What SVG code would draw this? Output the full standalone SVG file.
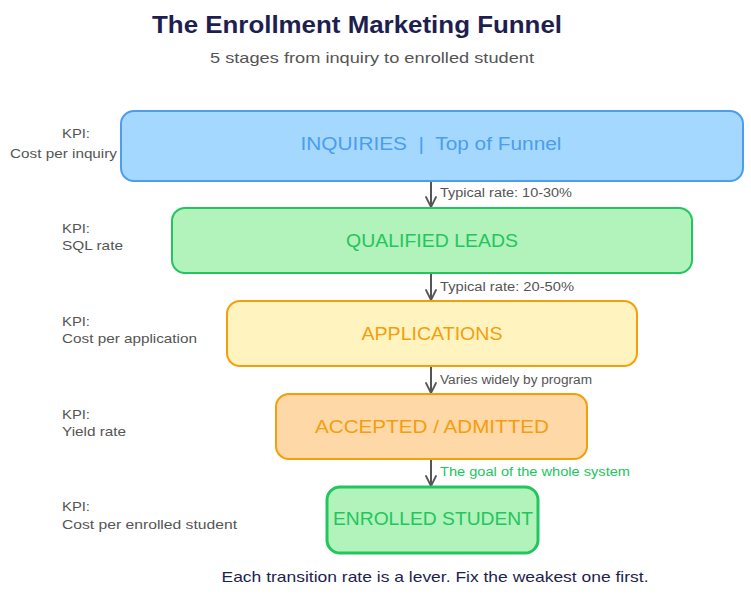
<svg xmlns="http://www.w3.org/2000/svg" width="751" height="597" viewBox="0 0 751 597">
<style>
text{font-family:"Liberation Sans","Noto Sans",sans-serif}
.title{font-size:24px;font-weight:bold;fill:#1e1e4f}
.sub{font-size:15px;fill:#555555}
.kpi{font-size:13px;fill:#555555}
.lbl{font-size:18px;text-anchor:middle}
.edge{font-size:12.5px;fill:#555555}
.box{stroke-width:2}
.conn{stroke:#555555;stroke-width:2;fill:none;marker-end:url(#ah)}
</style>
<defs>
<marker id="ah" viewBox="0 0 12 12" refX="11" refY="6" markerWidth="12" markerHeight="12" markerUnits="userSpaceOnUse" orient="auto">
<path d="M1,1 L11,6 L1,11" fill="none" stroke="#555555" stroke-width="1.8" stroke-linecap="round" stroke-linejoin="round"/>
</marker>
</defs>
<rect width="751" height="597" fill="#ffffff"/>
<text class="title" x="357" y="33" text-anchor="middle" textLength="410" lengthAdjust="spacingAndGlyphs">The Enrollment Marketing Funnel</text>
<text class="sub" x="372" y="63" text-anchor="middle" textLength="324" lengthAdjust="spacingAndGlyphs">5 stages from inquiry to enrolled student</text>

<g id="connectors">
<line class="conn" x1="431" y1="182" x2="431" y2="207"/>
<line class="conn" x1="431" y1="274" x2="431" y2="300"/>
<line class="conn" x1="431" y1="367" x2="431" y2="393"/>
<line class="conn" x1="431" y1="460" x2="431" y2="486"/>
<text class="edge" x="440" y="197" textLength="132" lengthAdjust="spacingAndGlyphs">Typical rate: 10-30%</text>
<text class="edge" x="440" y="291" textLength="134" lengthAdjust="spacingAndGlyphs">Typical rate: 20-50%</text>
<text class="edge" x="440" y="384" textLength="152" lengthAdjust="spacingAndGlyphs">Varies widely by program</text>
<text class="edge" x="440" y="476" style="fill:#22c55e" textLength="190" lengthAdjust="spacingAndGlyphs">The goal of the whole system</text>
</g>

<g id="inquiries">
<rect class="box" x="121" y="111" width="622" height="70" rx="13" fill="#a5d8ff" stroke="#4a9eed"/>
<text class="lbl" x="431" y="150" fill="#4a9eed" style="white-space:pre" xml:space="preserve" textLength="261" lengthAdjust="spacingAndGlyphs">INQUIRIES  |  Top of Funnel</text>
<text class="kpi" x="62" y="138" textLength="28" lengthAdjust="spacingAndGlyphs">KPI:</text>
<text class="kpi" x="10" y="158" textLength="107" lengthAdjust="spacingAndGlyphs">Cost per inquiry</text>
</g>

<g id="qualified-leads">
<rect class="box" x="172" y="208" width="520" height="65" rx="13" fill="#b2f2bb" stroke="#22c55e"/>
<text class="lbl" x="432" y="247" fill="#22c55e" textLength="172" lengthAdjust="spacingAndGlyphs">QUALIFIED LEADS</text>
<text class="kpi" x="62" y="233" textLength="28" lengthAdjust="spacingAndGlyphs">KPI:</text>
<text class="kpi" x="62" y="250" textLength="61" lengthAdjust="spacingAndGlyphs">SQL rate</text>
</g>

<g id="applications">
<rect class="box" x="227" y="301" width="410" height="65" rx="13" fill="#fff3bf" stroke="#f59e0b"/>
<text class="lbl" x="432" y="340" fill="#f59e0b" textLength="141" lengthAdjust="spacingAndGlyphs">APPLICATIONS</text>
<text class="kpi" x="62" y="326" textLength="28" lengthAdjust="spacingAndGlyphs">KPI:</text>
<text class="kpi" x="62" y="343" textLength="135" lengthAdjust="spacingAndGlyphs">Cost per application</text>
</g>

<g id="accepted">
<rect class="box" x="276" y="394" width="311" height="65" rx="13" fill="#ffd8a8" stroke="#f59e0b"/>
<text class="lbl" x="432" y="433" fill="#f59e0b" textLength="234" lengthAdjust="spacingAndGlyphs">ACCEPTED / ADMITTED</text>
<text class="kpi" x="62" y="419" textLength="28" lengthAdjust="spacingAndGlyphs">KPI:</text>
<text class="kpi" x="62" y="436" textLength="64" lengthAdjust="spacingAndGlyphs">Yield rate</text>
</g>

<g id="enrolled">
<rect x="327" y="487" width="211" height="66" rx="13" fill="#b2f2bb" stroke="#22c55e" stroke-width="3"/>
<text class="lbl" x="433" y="525" fill="#22c55e" textLength="200" lengthAdjust="spacingAndGlyphs">ENROLLED STUDENT</text>
<text class="kpi" x="62" y="511" textLength="28" lengthAdjust="spacingAndGlyphs">KPI:</text>
<text class="kpi" x="62" y="529" textLength="175" lengthAdjust="spacingAndGlyphs">Cost per enrolled student</text>
</g>

<text x="435" y="582" text-anchor="middle" font-size="15" fill="#1e1e4f" textLength="427" lengthAdjust="spacingAndGlyphs">Each transition rate is a lever. Fix the weakest one first.</text>
</svg>
